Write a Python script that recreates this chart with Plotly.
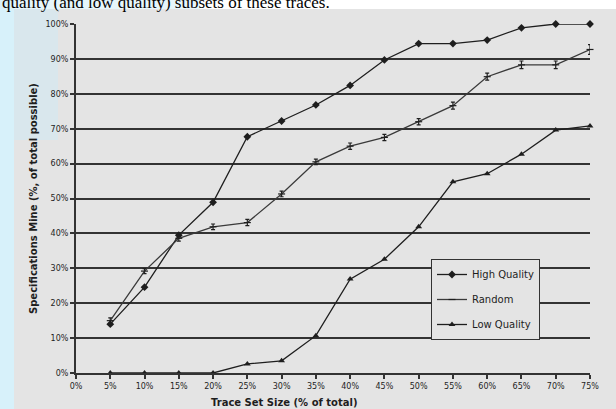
import plotly.graph_objects as go

# ---- data ----
trace_size = [5, 10, 15, 20, 25, 30, 35, 40, 45, 50, 55, 60, 65, 70, 75]
high_quality = [14.0, 24.6, 39.5, 48.9, 67.7, 72.2, 76.8, 82.4, 89.7, 94.4, 94.4, 95.4, 98.9, 100.0, 100.0]
random_sel = [15.0, 29.2, 38.6, 41.9, 43.1, 51.3, 60.5, 65.0, 67.5, 72.0, 76.6, 84.9, 88.3, 88.3, 92.7]
random_err = [0.8, 0.7, 0.8, 0.8, 0.9, 0.8, 0.8, 0.9, 0.9, 0.9, 1.0, 1.0, 1.1, 1.1, 1.4]
low_quality = [0.0, 0.0, 0.0, 0.0, 2.6, 3.5, 10.7, 26.9, 32.6, 41.9, 54.8, 57.1, 62.7, 69.6, 70.8]
x_ticks = [0, 5, 10, 15, 20, 25, 30, 35, 40, 45, 50, 55, 60, 65, 70, 75]
x_tick_labels = [f"{v}%" for v in x_ticks]
y_ticks = [0, 10, 20, 30, 40, 50, 60, 70, 80, 90, 100]
y_tick_labels = [f"{v}%" for v in y_ticks]

W, H = 616, 409
L, R, T, B = 76, 26, 24, 36
PW, PH = W - L - R, H - T - B

def px_x(p):
    return (p - L) / PW

def px_y(p):
    return 1 - (p - T) / PH

FONT = "DejaVu Sans"
INK = "#1e1e1e"

fig = go.Figure()
fig.add_trace(go.Scatter(
    x=trace_size, y=high_quality, name="High Quality", mode="lines+markers",
    line=dict(color=INK, width=1.3),
    marker=dict(symbol="diamond", size=6, color=INK),
    cliponaxis=False, legendgroup="a"))
fig.add_trace(go.Scatter(
    x=trace_size, y=random_sel, name="Random", mode="lines+markers",
    line=dict(color="#3a3a3a", width=1.3),
    marker=dict(symbol="line-ew", size=5, color=INK, line=dict(width=1.2, color=INK)),
    error_y=dict(type="data", array=random_err, visible=True, color=INK, thickness=1.2, width=2),
    cliponaxis=False, legendgroup="b"))
fig.add_trace(go.Scatter(
    x=trace_size, y=low_quality, name="Low Quality", mode="lines+markers",
    line=dict(color=INK, width=1.3),
    marker=dict(symbol="triangle-up", size=6, color=INK),
    cliponaxis=False, legendgroup="c"))

shapes = [
    # slide background strips (left and top)
    dict(type="rect", xref="paper", yref="paper", x0=px_x(0), x1=px_x(14), y0=px_y(H), y1=px_y(0),
         fillcolor="#d7f1fa", line=dict(width=0), layer="below"),
    dict(type="rect", xref="paper", yref="paper", x0=px_x(14), x1=px_x(W), y0=px_y(9), y1=px_y(0),
         fillcolor="#ffffff", line=dict(width=0), layer="below"),
    dict(type="rect", xref="paper", yref="paper", x0=px_x(14), x1=px_x(200), y0=px_y(9), y1=px_y(0),
         fillcolor="#e6f6fb", line=dict(width=0), layer="below"),
    # faint watermark tint in the panel's top-left corner
    dict(type="rect", xref="paper", yref="paper", x0=px_x(14), x1=px_x(58), y0=px_y(140), y1=px_y(9),
         fillcolor="rgba(205,235,248,0.45)", line=dict(width=0), layer="below"),
]

annotations = [
    dict(text="quality (and low quality) subsets of these traces.", xref="paper", yref="paper",
         x=px_x(0), y=px_y(14), xanchor="left", yanchor="bottom", showarrow=False,
         font=dict(family="Liberation Serif", size=17, color="#000000")),
    dict(text="<b>Trace Set Size (% of total)</b>", xref="paper", yref="paper",
         x=px_x(284), y=px_y(402), xanchor="center", yanchor="middle", showarrow=False,
         font=dict(family=FONT, size=10, color=INK)),
    dict(text="<b>Specifications Mine (%, of total possible)</b>", xref="paper", yref="paper",
         x=px_x(33), y=px_y(199), xanchor="center", yanchor="middle", showarrow=False,
         textangle=-90, font=dict(family=FONT, size=10, color=INK)),
]

fig.update_layout(
    width=W, height=H,
    margin=dict(l=L, r=R, t=T, b=B, pad=0),
    paper_bgcolor="#e4e4e4", plot_bgcolor="#e4e4e4",
    font=dict(family=FONT, color=INK),
    shapes=shapes, annotations=annotations,
    showlegend=True,
    legend=dict(x=px_x(431), y=px_y(259), xanchor="left", yanchor="top",
                bgcolor="#e4e4e4", bordercolor="#333333", borderwidth=1,
                font=dict(family=FONT, size=10, color=INK),
                itemwidth=30, tracegroupgap=6, traceorder="grouped"),
)
fig.update_xaxes(
    range=[0, 75], tickvals=x_ticks, ticktext=x_tick_labels,
    showgrid=False, zeroline=False,
    showline=True, linecolor="#333333", linewidth=2,
    ticks="outside", ticklen=4, tickcolor="#333333", tickwidth=1.5,
    tickfont=dict(family=FONT, size=8, color=INK))
fig.update_yaxes(
    range=[0, 100], tickvals=y_ticks, ticktext=y_tick_labels,
    showgrid=True, gridcolor="#333333", gridwidth=1.5, zeroline=False,
    showline=True, linecolor="#333333", linewidth=2,
    ticks="outside", ticklen=4, tickcolor="#333333", tickwidth=1.5,
    tickfont=dict(family=FONT, size=8, color=INK))

fig.write_html("out.html", config={"displayModeBar": False},
               post_script="document.body.style.margin='0';document.body.style.padding='0';")
